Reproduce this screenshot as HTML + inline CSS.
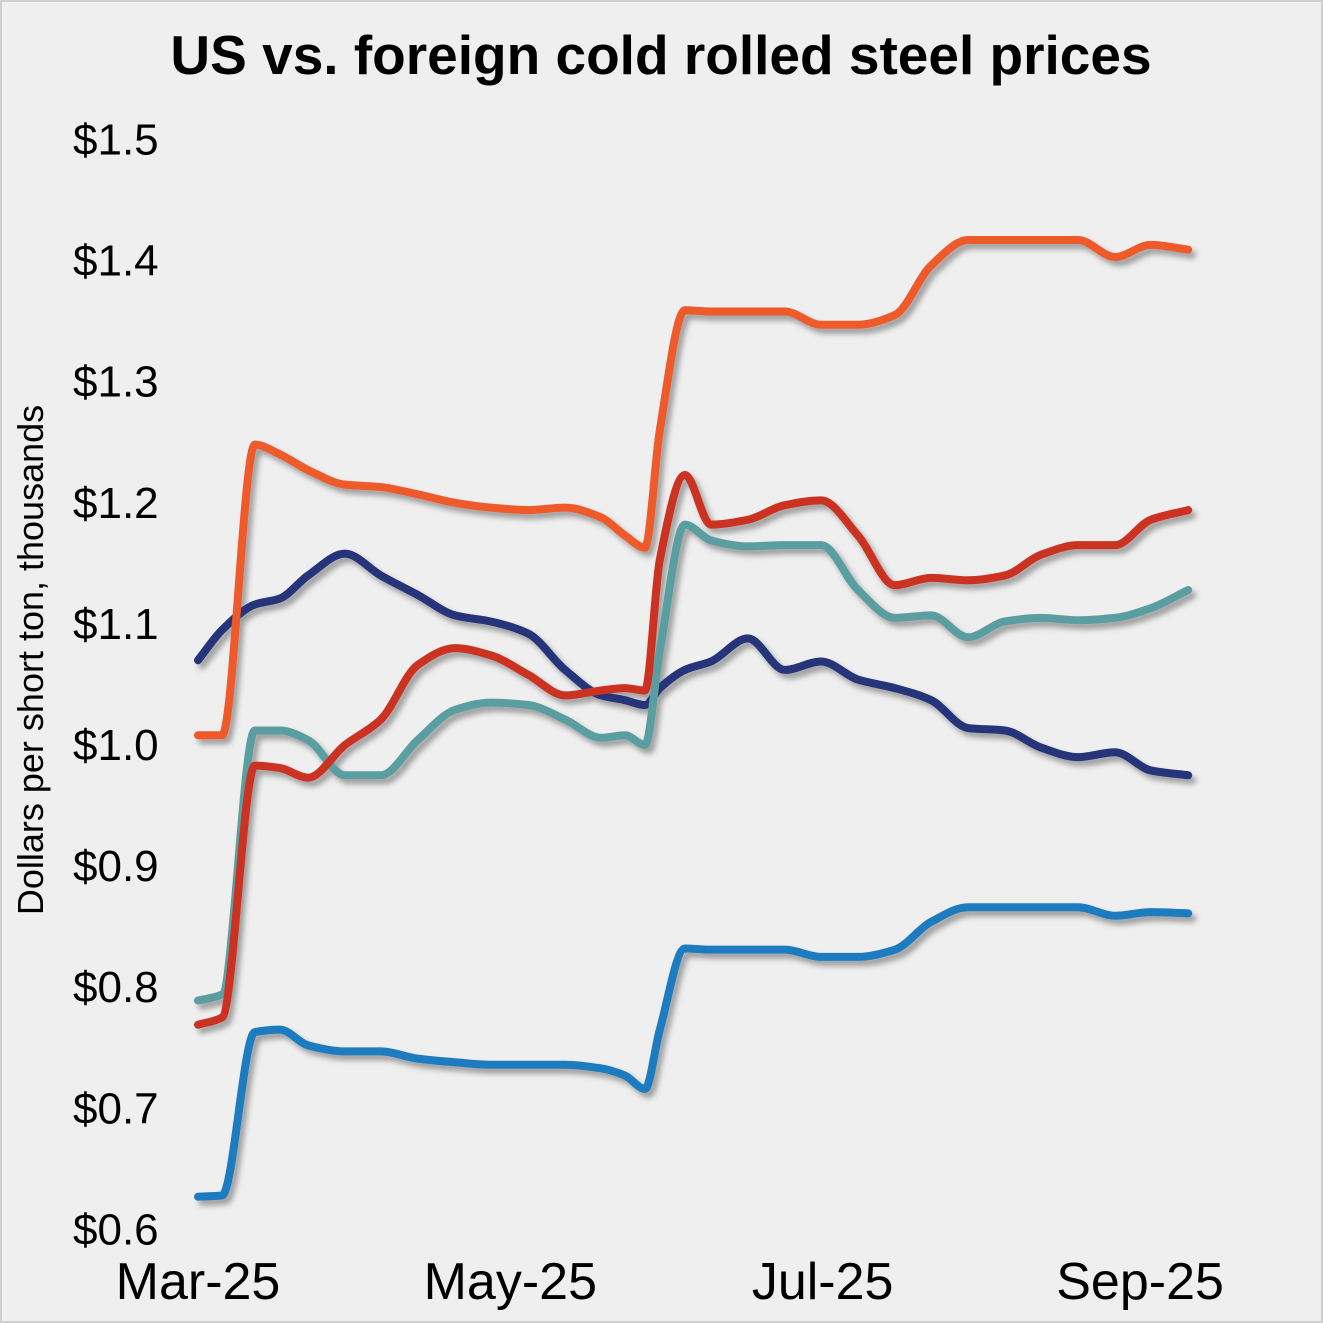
<!DOCTYPE html>
<html><head><meta charset="utf-8"><style>
html,body{margin:0;padding:0;background:#fff}
svg{display:block;font-family:"Liberation Sans",Arial,sans-serif}
</style></head><body>
<svg id="chart" width="1323" height="1323" viewBox="0 0 1323 1323" xmlns="http://www.w3.org/2000/svg">
<defs><filter id="sh" x="-5%" y="-5%" width="110%" height="110%"><feDropShadow dx="4" dy="5" stdDeviation="3" flood-color="#000" flood-opacity="0.35"/></filter></defs>
<rect x="1" y="1" width="1321" height="1321" fill="#efefef" stroke="#cfcfcf" stroke-width="2"/>
<text x="661" y="74" text-anchor="middle" font-size="55" font-weight="bold" fill="#000">US vs. foreign cold rolled steel prices</text>
<text transform="translate(43,660) rotate(-90)" text-anchor="middle" font-size="36" fill="#000">Dollars per short ton, thousands</text>
<g id="yt"></g><g id="xt"></g><g id="lines" filter="url(#sh)"></g>
</svg>
<script>
const dayOffsets=[0,4.7,11.1,16,21.5,28.7,35.7,42.9,50.2,57.2,64.5,71.7,78.7,83.4,87.3,90.2,95.1,100.2,107.4,114.6,121.7,128.9,136.1,143.2,150.4,157.6,164.6,171.9,179.1,186.1,193.4];
const orangeSeries=[1.008,1.008,1.248,1.240,1.227,1.215,1.213,1.207,1.200,1.196,1.194,1.196,1.188,1.173,1.163,1.260,1.359,1.358,1.358,1.358,1.347,1.347,1.355,1.396,1.417,1.417,1.417,1.417,1.403,1.413,1.409];
const redSeries=[0.769,0.775,0.983,0.981,0.973,1.000,1.021,1.066,1.080,1.074,1.058,1.041,1.045,1.047,1.045,1.153,1.223,1.182,1.186,1.198,1.202,1.173,1.132,1.138,1.136,1.140,1.157,1.165,1.165,1.186,1.194];
const tealSeries=[0.789,0.794,1.012,1.012,1.004,0.975,0.975,1.004,1.029,1.035,1.033,1.021,1.006,1.008,1.000,1.078,1.182,1.169,1.164,1.165,1.165,1.128,1.105,1.107,1.089,1.102,1.105,1.103,1.105,1.113,1.128];
const navySeries=[1.070,1.095,1.116,1.121,1.140,1.158,1.140,1.124,1.107,1.102,1.092,1.062,1.041,1.037,1.033,1.047,1.062,1.069,1.088,1.062,1.069,1.054,1.047,1.037,1.014,1.012,0.998,0.990,0.994,0.979,0.975];
const blueSeries=[0.627,0.628,0.763,0.765,0.752,0.747,0.747,0.741,0.738,0.736,0.736,0.736,0.733,0.727,0.716,0.765,0.832,0.831,0.831,0.831,0.825,0.825,0.831,0.854,0.866,0.866,0.866,0.866,0.859,0.862,0.861];
const yTickValues=[0.6,0.7,0.8,0.9,1.0,1.1,1.2,1.3,1.4,1.5];
const yTickLabels=["$0.6","$0.7","$0.8","$0.9","$1.0","$1.1","$1.2","$1.3","$1.4","$1.5"];
const xTickDays=[0,61,122,184];
const xTickLabels=["Mar-25","May-25","Jul-25","Sep-25"];
const NS="http://www.w3.org/2000/svg";
function xs(d){return 198+d*5.12;}
function ys(v){return 745-(v-1.0)*1211;}
function mk(t,a){const e=document.createElementNS(NS,t);for(const k in a)e.setAttribute(k,a[k]);return e;}
const yt=document.getElementById('yt');
yTickValues.forEach((v,i)=>{const t=mk('text',{x:73,y:ys(v)+15,'font-size':44,fill:'#000'});


t.textContent=yTickLabels[i];yt.appendChild(t);});
const xt=document.getElementById('xt');
xTickDays.forEach((d,i)=>{const t=mk('text',{x:xs(d),y:1299,'font-size':52,'text-anchor':'middle',fill:'#000'});


t.textContent=xTickLabels[i];xt.appendChild(t);});
function pathFor(vals){
const X=dayOffsets.map(xs),Y=vals.map(ys),n=X.length;
const dl=[],m=[];for(let i=0;i<n-1;i++)dl.push((Y[i+1]-Y[i])/(X[i+1]-X[i]));
m[0]=dl[0];m[n-1]=dl[n-2];
for(let i=1;i<n-1;i++){if(dl[i-1]*dl[i]<=0)m[i]=0;else{const w1=2*(X[i+1]-X[i])+(X[i]-X[i-1]),w2=(X[i+1]-X[i])+2*(X[i]-X[i-1]);m[i]=(w1+w2)/(w1/dl[i-1]+w2/dl[i]);}}
let d=`M${X[0]},${Y[0]}`;
for(let i=0;i<n-1;i++){const h=(X[i+1]-X[i])/3;d+=` C${X[i]+h},${Y[i]+m[i]*h} ${X[i+1]-h},${Y[i+1]-m[i+1]*h} ${X[i+1]},${Y[i+1]}`;}
return d;}
const lg=document.getElementById('lines');
[[blueSeries,'#1f7bbf','line-blue'],[navySeries,'#26357a','line-navy'],[tealSeries,'#5a9ea2','line-teal'],[redSeries,'#cc3322','line-red'],[orangeSeries,'#ef5a2a','line-orange']].forEach(s=>{
const e=mk('path',{d:pathFor(s[0]),fill:'none',stroke:s[1],'stroke-width':8,'stroke-linecap':'round','stroke-linejoin':'round'});


lg.appendChild(e);});
</script>
</body></html>
